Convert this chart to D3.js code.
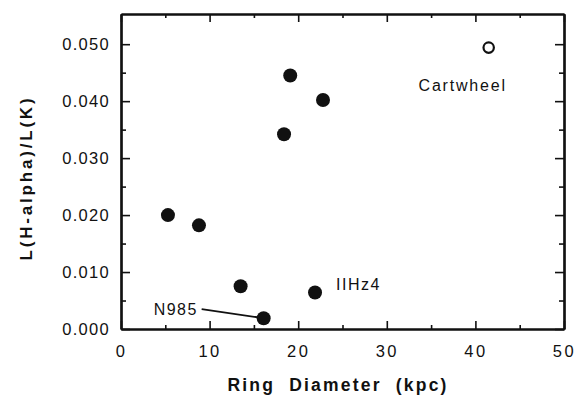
<!DOCTYPE html>
<html>
<head>
<meta charset="utf-8">
<script src="https://cdn.jsdelivr.net/npm/d3@7"></script>
<style>
  body { margin: 0; background: #fff; }
  text { font-family: "Liberation Sans", Arial, Helvetica, sans-serif; fill: #111; }
</style>
</head>
<body>
<svg></svg>
<script>

// ----- Data ----- //
var ringDiameter = [5.3, 8.8, 13.5, 16.1, 21.9, 19.1, 22.8, 18.4];
var haRatio = [0.0200, 0.0182, 0.0075, 0.0019, 0.0064, 0.0445, 0.0402, 0.0342];
var openDiameter = [41.5];
var openRatio = [0.0494];
var labelNames = ["Cartwheel", "IIHz4", "N985"];
var xTicks = [0, 10, 20, 30, 40, 50];
var yTicks = [0.000, 0.010, 0.020, 0.030, 0.040, 0.050];

var svgWidth = 577;
var svgHeight = 395;
var margin = {top: 14, right: 13, bottom: 66, left: 121};
var width = svgWidth - margin.left - margin.right;
var height = svgHeight - margin.top - margin.bottom;

var svg = d3.select("svg")
  .attr('width', svgWidth)
  .attr('height', svgHeight);

var g = svg.append('g')
  .attr('transform', translate(margin.left, margin.top));

var x = d3.scaleLinear().domain([0, 50]).range([0, width]);
var y = d3.scaleLinear().domain([0, 0.0553]).range([height, 0]);

var xMinor = d3.range(5, 50, 10);
var yMinor = d3.range(0.005, 0.055, 0.010);

// ----- Axes (ticks point inward on all four sides) ----- //
g.append('g')
  .attr('class', 'x_axis')
  .attr('transform', translate(0, height))
  .call(d3.axisBottom(x).tickValues(xTicks).tickFormat(d3.format('d'))
    .tickSizeInner(-8).tickSizeOuter(0).tickPadding(16));

g.append('g')
  .attr('transform', translate(0, height))
  .call(d3.axisBottom(x).tickValues(xMinor).tickFormat('').tickSizeInner(-4).tickSizeOuter(0));

g.append('g')
  .call(d3.axisTop(x).tickValues(xTicks).tickFormat('').tickSizeInner(-8).tickSizeOuter(0));

g.append('g')
  .call(d3.axisTop(x).tickValues(xMinor).tickFormat('').tickSizeInner(-4).tickSizeOuter(0));

g.append('g')
  .attr('class', 'y_axis')
  .call(d3.axisLeft(y).tickValues(yTicks).tickFormat(d3.format('.3f'))
    .tickSizeInner(-9).tickSizeOuter(0).tickPadding(11));

g.append('g')
  .call(d3.axisLeft(y).tickValues(yMinor).tickFormat('').tickSizeInner(-5).tickSizeOuter(0));

g.append('g')
  .attr('transform', translate(width, 0))
  .call(d3.axisRight(y).tickValues(yTicks).tickFormat('').tickSizeInner(-9).tickSizeOuter(0));

g.append('g')
  .attr('transform', translate(width, 0))
  .call(d3.axisRight(y).tickValues(yMinor).tickFormat('').tickSizeInner(-5).tickSizeOuter(0));

g.selectAll('.domain').attr('stroke', '#111').attr('stroke-width', 2.2);
g.selectAll('.tick line').attr('stroke', '#111').attr('stroke-width', 1.6);
g.selectAll('.tick text')
  .attr('font-size', 16.5)
  .style('fill', '#111');
g.selectAll('.x_axis .tick text').attr('letter-spacing', 2.5);
g.selectAll('.y_axis .tick text').attr('letter-spacing', 1.3);

// ----- Axis titles ----- //
svg.append('text')
  .attr('x', 338)
  .attr('y', 391)
  .attr('text-anchor', 'middle')
  .attr('font-size', 17.5)
  .attr('font-weight', 'bold')
  .attr('letter-spacing', 2.2)
  .attr('xml:space', 'preserve')
  .style('white-space', 'pre')
  .text('Ring  Diameter  (kpc)');

svg.append('text')
  .attr('transform', translate(32, 178) + ' rotate(-90)')
  .attr('text-anchor', 'middle')
  .attr('font-size', 17)
  .attr('font-weight', 'bold')
  .attr('letter-spacing', 2.8)
  .text('L(H-alpha)/L(K)');

// ----- Points ----- //
var pts = ringDiameter.map(function(d, i) { return {x: d, y: haRatio[i]}; });
var open = openDiameter.map(function(d, i) { return {x: d, y: openRatio[i]}; });

// leader line for N985 (from label to its point)
var n985 = pts[3];
g.append('line')
  .attr('x1', x(n985.x) - 62)
  .attr('y1', y(n985.y) - 9)
  .attr('x2', x(n985.x))
  .attr('y2', y(n985.y))
  .attr('stroke', '#111')
  .attr('stroke-width', 1.8);

g.selectAll('circle.filled')
  .data(pts)
  .enter()
  .append('circle')
  .attr('class', 'filled')
  .attr('cx', function(d) { return x(d.x); })
  .attr('cy', function(d) { return y(d.y); })
  .attr('r', 7)
  .attr('fill', '#111');

g.selectAll('circle.open')
  .data(open)
  .enter()
  .append('circle')
  .attr('class', 'open')
  .attr('cx', function(d) { return x(d.x); })
  .attr('cy', function(d) { return y(d.y); })
  .attr('r', 5.2)
  .attr('fill', '#fff')
  .attr('stroke', '#111')
  .attr('stroke-width', 2.2);

// ----- Labels ----- //
var cw = open[0];
g.append('text')
  .attr('x', x(cw.x) - 26)
  .attr('y', y(cw.y) + 43)
  .attr('text-anchor', 'middle')
  .attr('font-size', 16)
  .attr('letter-spacing', 1.8)
  .text(labelNames[0]);

var hz = pts[4];
g.append('text')
  .attr('x', x(hz.x) + 21)
  .attr('y', y(hz.y) - 3)
  .attr('font-size', 16)
  .attr('letter-spacing', 1.5)
  .text(labelNames[1]);

g.append('text')
  .attr('x', x(n985.x) - 110)
  .attr('y', y(n985.y) - 3)
  .attr('font-size', 16)
  .attr('letter-spacing', 1.5)
  .text(labelNames[2]);

function translate(a, b) {
  return 'translate(' + a + ',' + b + ')';
}
</script>
</body>
</html>
